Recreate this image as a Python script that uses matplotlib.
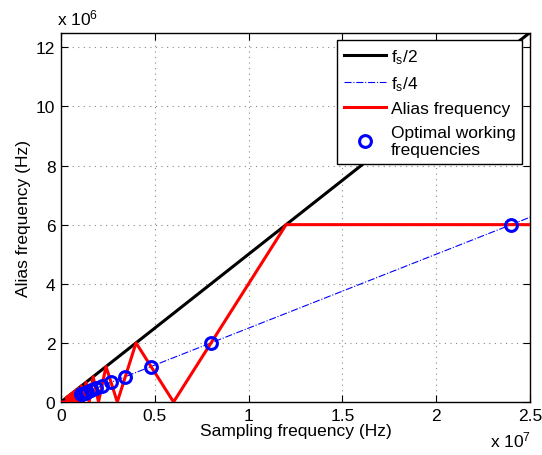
import matplotlib
matplotlib.use("Agg")
import matplotlib.pyplot as plt
import numpy as np

plt.rcParams['font.family'] = ['Liberation Sans', 'DejaVu Sans']
plt.rcParams['mathtext.fontset'] = 'custom'
plt.rcParams['mathtext.rm'] = 'Liberation Sans'
plt.rcParams['mathtext.it'] = 'Liberation Sans'

# Sampling-frequency sweep limits (Hz)
fs_range = [0.0, 2.5e7]

# Alias frequency curve: zero crossings and peaks of the folded tone (Hz)
alias_zero_fs = [6.0e6, 3.0e6, 2.0e6, 1.5e6, 1.2e6, 1.0e6, 0.857e6, 0.75e6,
                 0.667e6, 0.6e6, 0.545e6, 0.5e6, 0.4615e6, 0.4286e6, 0.4e6,
                 0.375e6, 0.353e6, 0.333e6, 0.316e6, 0.3e6]
alias_peak_fs = [12.0e6, 4.0e6, 2.4e6, 1.714e6, 1.333e6, 1.091e6, 0.923e6,
                 0.8e6, 0.706e6, 0.632e6, 0.571e6, 0.522e6, 0.48e6, 0.444e6,
                 0.414e6, 0.387e6, 0.364e6, 0.343e6, 0.324e6, 0.308e6]
alias_peak_val = [6.0e6, 2.0e6, 1.2e6, 0.857e6, 0.667e6, 0.545e6, 0.4615e6,
                  0.4e6, 0.353e6, 0.316e6, 0.286e6, 0.261e6, 0.24e6, 0.222e6,
                  0.207e6, 0.194e6, 0.182e6, 0.171e6, 0.162e6, 0.154e6]
alias_flat_end = [2.5e7, 6.0e6]

# Optimal working frequencies (fs, alias) in Hz
opt_fs = [24.0e6, 8.0e6, 4.8e6, 3.4286e6, 2.6667e6, 2.1818e6, 1.8462e6,
          1.6e6, 1.4118e6, 1.2632e6, 1.1429e6, 1.0435e6]
opt_alias = [6.0e6, 2.0e6, 1.2e6, 0.8571e6, 0.6667e6, 0.5455e6, 0.4615e6,
             0.4e6, 0.3529e6, 0.3158e6, 0.2857e6, 0.2609e6]

# Assemble the alias polyline from high fs down to the origin
ax_x = [alias_flat_end[0]]
ax_y = [alias_flat_end[1]]
for pf, pv, zf in zip(alias_peak_fs, alias_peak_val, alias_zero_fs):
    ax_x += [pf, zf]
    ax_y += [pv, 0.0]
ax_x.append(0.0)
ax_y.append(0.0)

FS = 12.5

fig = plt.figure(figsize=(5.42, 4.56), dpi=100)
ax = fig.add_axes([61/542, 53/456, 469/542, 369.5/456])

fs = np.array(fs_range)
ax.plot(fs, fs / 2, color='black', lw=2.2, label=r'f$_\mathregular{s}$/2', zorder=3)
ax.plot(fs, fs / 4, color='blue', lw=0.8, ls='-.', label=r'f$_\mathregular{s}$/4', zorder=3)
ax.plot(ax_x, ax_y, color='red', lw=2.2, label='Alias frequency', zorder=4)
ax.plot(opt_fs, opt_alias, ls='none', marker='o', ms=8.5, mfc='none', mec='blue',
        mew=2.2, label='Optimal working\nfrequencies', zorder=5)

ax.set_xlim(0, 2.5e7)
ax.set_ylim(0, 1.25e7)
ax.set_xticks([0, 0.5e7, 1.0e7, 1.5e7, 2.0e7, 2.5e7])
ax.set_xticklabels(['0', '0.5', '1', '1.5', '2', '2.5'])
ax.set_yticks([0, 2e6, 4e6, 6e6, 8e6, 10e6, 12e6])
ax.set_yticklabels(['0', '2', '4', '6', '8', '10', '12'])
ax.tick_params(direction='in', top=True, right=True, labelsize=FS, length=5,
               width=0.8, pad=4)
ax.grid(True, color='#888888', lw=0.8, dashes=(1, 4))
for s in ax.spines.values():
    s.set_linewidth(1.0)

ax.set_xlabel('Sampling frequency (Hz)', fontsize=FS, labelpad=0)
ax.set_ylabel('Alias frequency (Hz)', fontsize=FS, labelpad=4)

fig.text(57/542, 1 - 18/456, r'x 10$^\mathregular{6}$', fontsize=FS, va='center', ha='left')
fig.text(490/542, 1 - 440/456, r'x 10$^\mathregular{7}$', fontsize=FS, va='center', ha='left')

leg = ax.legend(loc='upper right', bbox_to_anchor=(0.984, 0.979), fontsize=FS,
                frameon=True, fancybox=False, framealpha=1, edgecolor='black',
                handlelength=2.4, handletextpad=0.3, borderpad=0.4,
                labelspacing=0.48, borderaxespad=0.0)
leg.get_frame().set_linewidth(1.0)

fig.savefig('out.png', dpi=100)
